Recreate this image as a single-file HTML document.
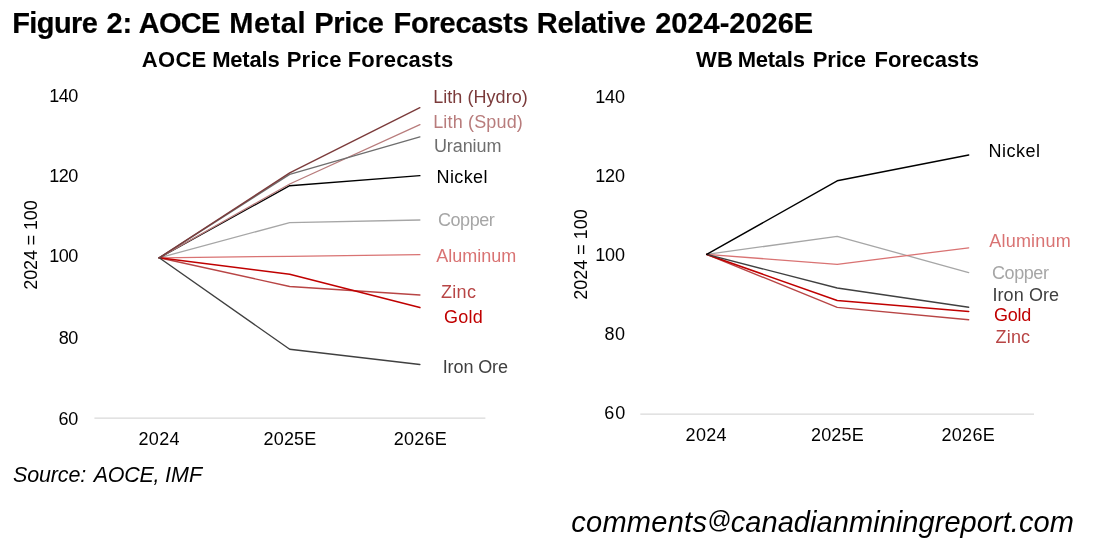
<!DOCTYPE html>
<html><head><meta charset="utf-8">
<title>Figure 2</title>
<style>
html,body{margin:0;padding:0;background:#fff;}
body{width:1097px;height:554px;overflow:hidden;}
svg{display:block;}
text{font-family:"Liberation Sans",Arial,Helvetica,sans-serif;white-space:pre;}
.t{font-weight:bold;font-size:29px;stroke:#000;stroke-width:.2px;}
.ct{font-weight:bold;font-size:22px;}
.ax{font-size:18px;}
.lb{font-size:18px;}
.src{font-style:italic;font-size:21.5px;}
.em{font-style:italic;font-size:29px;}
.ln{fill:none;stroke-linejoin:round;stroke-linecap:round;}
</style></head><body>
<svg width="1097" height="554" viewBox="0 0 1097 554">
<rect width="1097" height="554" fill="#fff"/>

<line x1="94.4" y1="418.2" x2="485.4" y2="418.2" stroke="#d9d9d9" stroke-width="1.3"/>
<polyline class="ln" stroke="#a6a6a6" stroke-width="1.3" points="159.2,257.8 289.7,222.6 419.9,220.0"/>
<polyline class="ln" stroke="#d97373" stroke-width="1.3" points="159.2,257.8 289.7,256.3 419.9,254.7"/>
<polyline class="ln" stroke="#b84545" stroke-width="1.4" points="159.2,257.8 289.7,286.5 419.9,295.0"/>
<polyline class="ln" stroke="#c00000" stroke-width="1.55" points="159.2,257.8 289.7,274.2 419.9,307.6"/>
<polyline class="ln" stroke="#404040" stroke-width="1.4" points="159.2,257.8 289.7,349.3 419.9,364.5"/>
<polyline class="ln" stroke="#000" stroke-width="1.38" points="159.2,257.8 289.7,185.7 419.9,175.6"/>
<polyline class="ln" stroke="#b87c7c" stroke-width="1.3" points="159.2,257.8 289.7,184.0 419.9,124.6"/>
<polyline class="ln" stroke="#6e6e6e" stroke-width="1.4" points="159.2,257.8 289.7,174.3 419.9,136.9"/>
<polyline class="ln" stroke="#7b3b3b" stroke-width="1.4" points="159.2,257.8 289.7,172.9 419.9,107.7"/>
<line x1="640.3" y1="414.1" x2="1034" y2="414.1" stroke="#d9d9d9" stroke-width="1.3"/>
<polyline class="ln" stroke="#a6a6a6" stroke-width="1.3" points="706.7,254.4 837.2,236.3 968.7,272.6"/>
<polyline class="ln" stroke="#d97373" stroke-width="1.3" points="706.7,254.4 837.2,264.3 968.7,247.8"/>
<polyline class="ln" stroke="#b84545" stroke-width="1.4" points="706.7,254.4 837.2,307.4 968.7,319.7"/>
<polyline class="ln" stroke="#c00000" stroke-width="1.55" points="706.7,254.4 837.2,300.6 968.7,311.4"/>
<polyline class="ln" stroke="#404040" stroke-width="1.4" points="706.7,254.4 837.2,288.0 968.7,307.2"/>
<polyline class="ln" stroke="#000" stroke-width="1.38" points="706.7,254.4 837.2,180.8 968.7,155.0"/>

<text class="t" fill="#000"><tspan x="12.25" y="33" textLength="85.62" lengthAdjust="spacing">Figure</tspan> <tspan x="106.40" y="33" textLength="25.80" lengthAdjust="spacing">2:</tspan> <tspan x="138.70" y="33" textLength="81.70" lengthAdjust="spacing">AOCE</tspan> <tspan x="229.25" y="33" textLength="76.34" lengthAdjust="spacing">Metal</tspan> <tspan x="314.30" y="33" textLength="69.65" lengthAdjust="spacing">Price</tspan> <tspan x="393.45" y="33" textLength="135.22" lengthAdjust="spacing">Forecasts</tspan> <tspan x="536.75" y="33" textLength="109.18" lengthAdjust="spacing">Relative</tspan> <tspan x="655.20" y="33" textLength="157.98" lengthAdjust="spacing">2024-2026E</tspan></text>
<text class="ct" fill="#000"><tspan x="141.80" y="67" textLength="64.46" lengthAdjust="spacing">AOCE</tspan> <tspan x="212.15" y="67" textLength="67.58" lengthAdjust="spacing">Metals</tspan> <tspan x="286.70" y="67" textLength="54.78" lengthAdjust="spacing">Price</tspan> <tspan x="347.65" y="67" textLength="105.65" lengthAdjust="spacing">Forecasts</tspan></text>
<text class="ct" fill="#000"><tspan x="696.00" y="67" textLength="36.94" lengthAdjust="spacing">WB</tspan> <tspan x="737.65" y="67" textLength="67.28" lengthAdjust="spacing">Metals</tspan> <tspan x="812.65" y="67" textLength="53.33" lengthAdjust="spacing">Price</tspan> <tspan x="874.50" y="67" textLength="104.55" lengthAdjust="spacing">Forecasts</tspan></text>
<text class="ax" fill="#000"><tspan x="49.20" y="102" textLength="29.05" lengthAdjust="spacing">140</tspan></text>
<text class="ax" fill="#000"><tspan x="49.20" y="182" textLength="29.05" lengthAdjust="spacing">120</tspan></text>
<text class="ax" fill="#000"><tspan x="49.20" y="262" textLength="29.05" lengthAdjust="spacing">100</tspan></text>
<text class="ax" fill="#000"><tspan x="58.75" y="344" textLength="19.51" lengthAdjust="spacing">80</tspan></text>
<text class="ax" fill="#000"><tspan x="58.50" y="425" textLength="19.68" lengthAdjust="spacing">60</tspan></text>
<text class="ax" fill="#000"><tspan x="138.50" y="445" textLength="41.05" lengthAdjust="spacing">2024</tspan></text>
<text class="ax" fill="#000"><tspan x="263.50" y="445" textLength="52.81" lengthAdjust="spacing">2025E</tspan></text>
<text class="ax" fill="#000"><tspan x="393.70" y="445" textLength="52.96" lengthAdjust="spacing">2026E</tspan></text>
<text class="lb" fill="#7b3b3b"><tspan x="433.15" y="103" textLength="94.63" lengthAdjust="spacing">Lith (Hydro)</tspan></text>
<text class="lb" fill="#b87c7c"><tspan x="433.15" y="128" textLength="89.66" lengthAdjust="spacing">Lith (Spud)</tspan></text>
<text class="lb" fill="#6e6e6e"><tspan x="433.90" y="152" textLength="67.53" lengthAdjust="spacing">Uranium</tspan></text>
<text class="lb" fill="#000"><tspan x="436.55" y="183" textLength="50.92" lengthAdjust="spacing">Nickel</tspan></text>
<text class="lb" fill="#a6a6a6"><tspan x="437.90" y="226" textLength="56.95" lengthAdjust="spacing">Copper</tspan></text>
<text class="lb" fill="#d97373"><tspan x="436.35" y="262" textLength="79.93" lengthAdjust="spacing">Aluminum</tspan></text>
<text class="lb" fill="#b84545"><tspan x="441.00" y="298" textLength="34.92" lengthAdjust="spacing">Zinc</tspan></text>
<text class="lb" fill="#c00000"><tspan x="444.05" y="323" textLength="38.73" lengthAdjust="spacing">Gold</tspan></text>
<text class="lb" fill="#404040"><tspan x="442.65" y="373" textLength="65.38" lengthAdjust="spacing">Iron Ore</tspan></text>
<text class="ax" fill="#000"><tspan x="595.35" y="103" textLength="29.55" lengthAdjust="spacing">140</tspan></text>
<text class="ax" fill="#000"><tspan x="595.35" y="182" textLength="29.55" lengthAdjust="spacing">120</tspan></text>
<text class="ax" fill="#000"><tspan x="595.35" y="261" textLength="29.55" lengthAdjust="spacing">100</tspan></text>
<text class="ax" fill="#000"><tspan x="604.60" y="340" textLength="20.52" lengthAdjust="spacing">80</tspan></text>
<text class="ax" fill="#000"><tspan x="604.35" y="419" textLength="20.87" lengthAdjust="spacing">60</tspan></text>
<text class="ax" fill="#000"><tspan x="685.55" y="441" textLength="41.00" lengthAdjust="spacing">2024</tspan></text>
<text class="ax" fill="#000"><tspan x="810.90" y="441" textLength="52.96" lengthAdjust="spacing">2025E</tspan></text>
<text class="ax" fill="#000"><tspan x="941.50" y="441" textLength="53.21" lengthAdjust="spacing">2026E</tspan></text>
<text class="lb" fill="#000"><tspan x="988.50" y="157" textLength="51.57" lengthAdjust="spacing">Nickel</tspan></text>
<text class="lb" fill="#d97373"><tspan x="989.35" y="247" textLength="81.33" lengthAdjust="spacing">Aluminum</tspan></text>
<text class="lb" fill="#a6a6a6"><tspan x="992.00" y="279" textLength="56.90" lengthAdjust="spacing">Copper</tspan></text>
<text class="lb" fill="#404040"><tspan x="992.45" y="301" textLength="66.63" lengthAdjust="spacing">Iron Ore</tspan></text>
<text class="lb" fill="#c00000"><tspan x="994.05" y="320.6" textLength="37.33" lengthAdjust="spacing">Gold</tspan></text>
<text class="lb" fill="#b84545"><tspan x="995.50" y="342.6" textLength="34.62" lengthAdjust="spacing">Zinc</tspan></text>
<text class="src" fill="#000"><tspan x="12.95" y="482" textLength="73.26" lengthAdjust="spacing">Source:</tspan> <tspan x="93.65" y="482" textLength="65.83" lengthAdjust="spacing">AOCE,</tspan> <tspan x="164.90" y="482" textLength="37.17" lengthAdjust="spacing">IMF</tspan></text>
<text class="em" fill="#000"><tspan x="571.25" y="532" textLength="135.67" lengthAdjust="spacing">comments</tspan><tspan x="707.25" y="528" font-size="23.6">@</tspan><tspan x="730.75" y="532" textLength="343.10" lengthAdjust="spacing">canadianminingreport.com</tspan></text>

<text class="ax" id="yl" transform="translate(36.85,289.70000000000005) rotate(-90)" textLength="89.40000000000003" lengthAdjust="spacing">2024 = 100</text>
<text class="ax" id="yr" transform="translate(586.85,299.8499999999999) rotate(-90)" textLength="90.49999999999991" lengthAdjust="spacing">2024 = 100</text>

</svg>
</body></html>
